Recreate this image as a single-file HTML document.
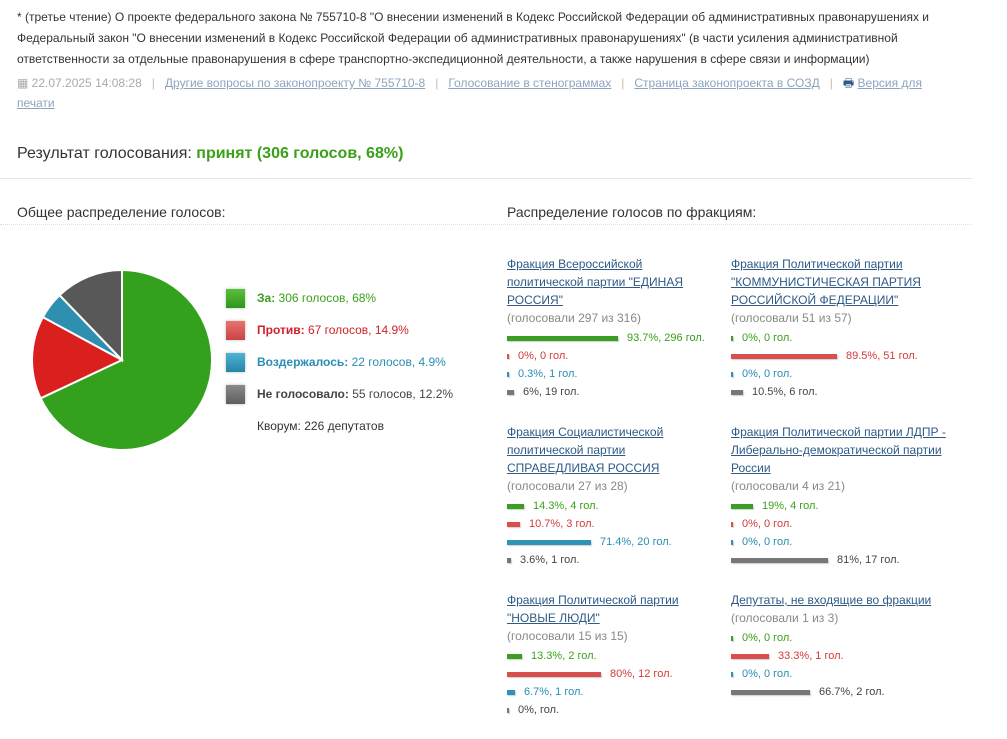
<!DOCTYPE html>
<html><head><meta charset="utf-8"><style>
body{margin:0;width:1007px;height:739px;background:#fff;font-family:"Liberation Sans",Arial,sans-serif;color:#333;position:relative;overflow:hidden}
.a{position:absolute}
a{color:#2f5f8a;text-decoration:underline}
.meta a{color:#8da4bd}
.sep{color:#cdb9a5;margin:0 10px}
.grp{position:absolute;width:215px;font-size:12px;line-height:18px}
.grp a{color:#2e5a85}
.v{color:#888}
.r{display:flex;align-items:center;height:18px;font-size:11px}
.b{display:inline-block;height:5px;margin-right:9px;box-shadow:1px 1px 1px #ccc}
.g{color:#3aa01a}.g .b{background:#3a9e22}
.rd{color:#d23a3a}.rd .b{background:#d84f4f}
.bl{color:#2a8db3}.bl .b{background:#2f93b8}
.gr{color:#444}.gr .b{background:#777}
</style></head><body>
<div class="a" style="left:17px;top:7px;width:960px;font-size:12px;line-height:21px;color:#333">* (третье чтение) О проекте федерального закона № 755710-8 "О внесении изменений в Кодекс Российской Федерации об административных правонарушениях и Федеральный закон "О внесении изменений в Кодекс Российской Федерации об административных правонарушениях" (в части усиления административной ответственности за отдельные правонарушения в сфере транспортно-экспедиционной деятельности, а также нарушения в сфере связи и информации)</div>
<div class="a meta" style="left:17px;top:73px;width:920px;font-size:12px;line-height:20px;color:#aaa">▦ 22.07.2025 14:08:28<span class="sep">|</span><a>Другие вопросы по законопроекту № 755710-8</a><span class="sep">|</span><a>Голосование в стенограммах</a><span class="sep">|</span><a>Страница законопроекта в СОЗД</a><span class="sep">|</span><span style="color:#2e5a85">🖶</span> <a>Версия для печати</a></div>
<div class="a" style="left:17px;top:145px;font-size:16px;color:#333">Результат голосования: <b style="color:#3aa01a">принят (306 голосов, 68%)</b></div>
<div class="a" style="left:0;top:178px;width:972px;border-top:1px solid #e6e6e6"></div>
<div class="a" style="left:17px;top:204px;font-size:14px">Общее распределение голосов:</div>
<div class="a" style="left:507px;top:204px;font-size:14px">Распределение голосов по фракциям:</div>
<div class="a" style="left:0;top:224px;width:972px;border-top:1px dotted #ddd"></div>
<svg class="a" style="left:0;top:0" width="260" height="739">
<g stroke="#fff" stroke-width="2">
<path d="M122 360 L122 270 A90 90 0 1 1 40.6 398.3Z" fill="#34a11e"/>
<path d="M122 360 L40.6 398.3 A90 90 0 0 1 42.9 317.1Z" fill="#da1f1f"/>
<path d="M122 360 L42.9 317.1 A90 90 0 0 1 59.6 295.2Z" fill="#2e8fb0"/>
<path d="M122 360 L59.6 295.2 A90 90 0 0 1 122 270Z" fill="#585858"/>
</g></svg>
<div class="a" style="left:226px;top:282px;font-size:12px;line-height:16px">
<div style="display:flex;align-items:center;height:32px;color:#3aa01a"><span style="width:19px;height:19px;background:linear-gradient(#5cbf3a,#2e961c);box-shadow:0 0 3px #bbb;margin-right:12px"></span><b>За:</b>&nbsp;306 голосов, 68%</div>
<div style="display:flex;align-items:center;height:32px;color:#d0202a"><span style="width:19px;height:19px;background:linear-gradient(#ea7272,#c84444);box-shadow:0 0 3px #bbb;margin-right:12px"></span><b>Против:</b>&nbsp;67 голосов, 14.9%</div>
<div style="display:flex;align-items:center;height:32px;color:#2a8db3"><span style="width:19px;height:19px;background:linear-gradient(#4eb3d6,#2485a8);box-shadow:0 0 3px #bbb;margin-right:12px"></span><b>Воздержалось:</b>&nbsp;22 голосов, 4.9%</div>
<div style="display:flex;align-items:center;height:32px;color:#444"><span style="width:19px;height:19px;background:linear-gradient(#8a8a8a,#5e5e5e);box-shadow:0 0 3px #bbb;margin-right:12px"></span><b>Не голосовало:</b>&nbsp;55 голосов, 12.2%</div>
<div style="margin-top:8px;margin-left:31px;color:#333">Кворум: 226 депутатов</div>
</div>

<div class="grp" style="left:507px;top:255px"><a>Фракция Всероссийской политической партии "ЕДИНАЯ РОССИЯ"</a><div class="v">(голосовали 297 из 316)</div>
<div style="margin-top:2px"><div class="r g"><span class="b" style="width:111px"></span>93.7%, 296 гол.</div><div class="r rd"><span class="b" style="width:2px"></span>0%, 0 гол.</div><div class="r bl"><span class="b" style="width:2px"></span>0.3%, 1 гол.</div><div class="r gr"><span class="b" style="width:7px"></span>6%, 19 гол.</div></div></div>

<div class="grp" style="left:731px;top:255px"><a>Фракция Политической партии "КОММУНИСТИЧЕСКАЯ ПАРТИЯ РОССИЙСКОЙ ФЕДЕРАЦИИ"</a><div class="v">(голосовали 51 из 57)</div>
<div style="margin-top:2px"><div class="r g"><span class="b" style="width:2px"></span>0%, 0 гол.</div><div class="r rd"><span class="b" style="width:106px"></span>89.5%, 51 гол.</div><div class="r bl"><span class="b" style="width:2px"></span>0%, 0 гол.</div><div class="r gr"><span class="b" style="width:12px"></span>10.5%, 6 гол.</div></div></div>

<div class="grp" style="left:507px;top:423px"><a>Фракция Социалистической политической партии СПРАВЕДЛИВАЯ РОССИЯ</a><div class="v">(голосовали 27 из 28)</div>
<div style="margin-top:2px"><div class="r g"><span class="b" style="width:17px"></span>14.3%, 4 гол.</div><div class="r rd"><span class="b" style="width:13px"></span>10.7%, 3 гол.</div><div class="r bl"><span class="b" style="width:84px"></span>71.4%, 20 гол.</div><div class="r gr"><span class="b" style="width:4px"></span>3.6%, 1 гол.</div></div></div>

<div class="grp" style="left:731px;top:423px"><a>Фракция Политической партии ЛДПР - Либерально-демократической партии России</a><div class="v">(голосовали 4 из 21)</div>
<div style="margin-top:2px"><div class="r g"><span class="b" style="width:22px"></span>19%, 4 гол.</div><div class="r rd"><span class="b" style="width:2px"></span>0%, 0 гол.</div><div class="r bl"><span class="b" style="width:2px"></span>0%, 0 гол.</div><div class="r gr"><span class="b" style="width:97px"></span>81%, 17 гол.</div></div></div>

<div class="grp" style="left:507px;top:591px"><a>Фракция Политической партии "НОВЫЕ ЛЮДИ"</a><div class="v">(голосовали 15 из 15)</div>
<div style="margin-top:2px"><div class="r g"><span class="b" style="width:15px"></span>13.3%, 2 гол.</div><div class="r rd"><span class="b" style="width:94px"></span>80%, 12 гол.</div><div class="r bl"><span class="b" style="width:8px"></span>6.7%, 1 гол.</div><div class="r gr"><span class="b" style="width:2px"></span>0%, гол.</div></div></div>

<div class="grp" style="left:731px;top:591px"><a>Депутаты, не входящие во фракции</a><div class="v">(голосовали 1 из 3)</div>
<div style="margin-top:2px"><div class="r g"><span class="b" style="width:2px"></span>0%, 0 гол.</div><div class="r rd"><span class="b" style="width:38px"></span>33.3%, 1 гол.</div><div class="r bl"><span class="b" style="width:2px"></span>0%, 0 гол.</div><div class="r gr"><span class="b" style="width:79px"></span>66.7%, 2 гол.</div></div></div>
</body></html>
